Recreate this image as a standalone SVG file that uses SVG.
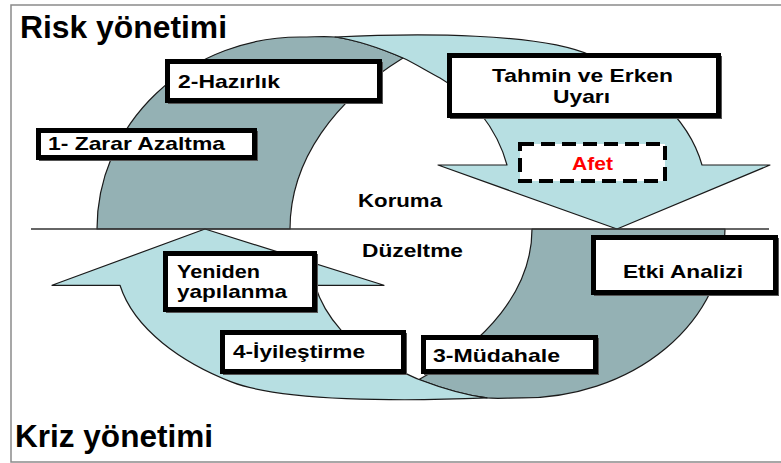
<svg xmlns="http://www.w3.org/2000/svg" width="781" height="463" viewBox="0 0 781 463">
<style>
.dark{fill:#94b1b4;stroke:#1a1a1a;stroke-width:1.2;stroke-linejoin:round}
.light{fill:#b7dfe2;stroke:#1a1a1a;stroke-width:1.2;stroke-linejoin:round}
.box{fill:#ffffff;stroke:#000000;stroke-width:5}
.shadow{fill:none;stroke:#555555;stroke-width:3}
.dash{fill:#ffffff;stroke:#000000;stroke-width:4;stroke-dasharray:14 7}
text{font-family:"Liberation Sans",Arial,Helvetica,sans-serif;font-weight:bold;fill:#000000}
.title{font-size:31px}
.lbl{font-size:19px}
</style>
<rect x="11" y="5" width="800" height="457" fill="#ffffff" stroke="#8a8a8a" stroke-width="1.5"/>
<g id="connectors">
  <g id="upper-arrow">
    <path class="dark" d="M97,229 A203 192 0 0 1 300,37 C315,37 325,36 335,37 C355,40 380,48 403,58 C335,100 290,160 290,229 Z"/>
    <path class="light" d="M335,37 C420,33 540,33 590,55 C640,77 688,115 702,165 L770,165 L617,229 L438,165 L507,165 C497,128 470,95 440,78 C425,70 414,63 403,58 C380,48 355,40 335,37 Z"/>
  </g>
  <g id="lower-arrow" transform="matrix(-1 0 0 -0.88 822 430.5)">
    <path class="dark" vector-effect="non-scaling-stroke" d="M97,229 A203 192 0 0 1 300,37 C315,37 325,36 335,37 C355,40 380,48 403,58 C335,100 290,160 290,229 Z"/>
    <path class="light" vector-effect="non-scaling-stroke" d="M335,37 C420,33 540,33 590,55 C640,77 688,115 702,165 L770,165 L617,229 L438,165 L507,165 C497,128 470,95 440,78 C425,70 414,63 403,58 C380,48 355,40 335,37 Z"/>
  </g>
  <line x1="31" y1="229" x2="769" y2="229" stroke="#333333" stroke-width="1.6"/>
</g>
<text class="title" x="20" y="38" textLength="207" lengthAdjust="spacingAndGlyphs">Risk yönetimi</text>
<text class="title" x="15" y="447" textLength="198" lengthAdjust="spacingAndGlyphs">Kriz yönetimi</text>
<text class="lbl" x="358" y="207" textLength="84" lengthAdjust="spacingAndGlyphs">Koruma</text>
<text class="lbl" x="362" y="257" textLength="101" lengthAdjust="spacingAndGlyphs">Düzeltme</text>
<g id="hazirlik">
  <rect class="shadow" x="169.5" y="63.5" width="212" height="39"/>
  <rect class="box" x="167.5" y="61.5" width="212" height="39"/>
  <text class="lbl" x="178" y="88" textLength="102" lengthAdjust="spacingAndGlyphs">2-Hazırlık</text>
</g>
<g id="zarar-azaltma">
  <rect class="shadow" x="40.5" y="132.5" width="216" height="27"/>
  <rect class="box" x="38.5" y="130.5" width="216" height="27"/>
  <text class="lbl" x="48" y="150" textLength="177" lengthAdjust="spacingAndGlyphs">1- Zarar Azaltma</text>
</g>
<g id="tahmin">
  <rect class="shadow" x="451.5" y="57.5" width="269" height="60"/>
  <rect class="box" x="449.5" y="55.5" width="269" height="60"/>
  <text class="lbl" x="492" y="82" textLength="181" lengthAdjust="spacingAndGlyphs">Tahmin ve Erken</text>
  <text class="lbl" x="553" y="103" textLength="57" lengthAdjust="spacingAndGlyphs">Uyarı</text>
</g>
<g id="afet">
  <rect class="dash" x="520" y="144" width="145" height="37"/>
  <text class="lbl" x="572" y="170" textLength="41" lengthAdjust="spacingAndGlyphs" style="fill:#ff0000">Afet</text>
</g>
<g id="etki-analizi">
  <rect class="shadow" x="595.5" y="239.5" width="182" height="55"/>
  <rect class="box" x="593.5" y="237.5" width="182" height="55"/>
  <text class="lbl" x="623" y="278" textLength="120" lengthAdjust="spacingAndGlyphs">Etki Analizi</text>
</g>
<g id="yeniden-yapilanma">
  <rect class="shadow" x="167.5" y="255.5" width="149" height="56"/>
  <rect class="box" x="165.5" y="253.5" width="149" height="56"/>
  <text class="lbl" x="177" y="278" textLength="83" lengthAdjust="spacingAndGlyphs">Yeniden</text>
  <text class="lbl" x="177" y="298" textLength="110" lengthAdjust="spacingAndGlyphs">yapılanma</text>
</g>
<g id="iyilestirme">
  <rect class="shadow" x="224.5" y="334.5" width="181" height="39"/>
  <rect class="box" x="222.5" y="332.5" width="181" height="39"/>
  <text class="lbl" x="233" y="358" textLength="132" lengthAdjust="spacingAndGlyphs">4-İyileştirme</text>
</g>
<g id="mudahale">
  <rect class="shadow" x="425.5" y="339.5" width="172" height="34"/>
  <rect class="box" x="423.5" y="337.5" width="172" height="34"/>
  <text class="lbl" x="433" y="362" textLength="127" lengthAdjust="spacingAndGlyphs">3-Müdahale</text>
</g>
</svg>
